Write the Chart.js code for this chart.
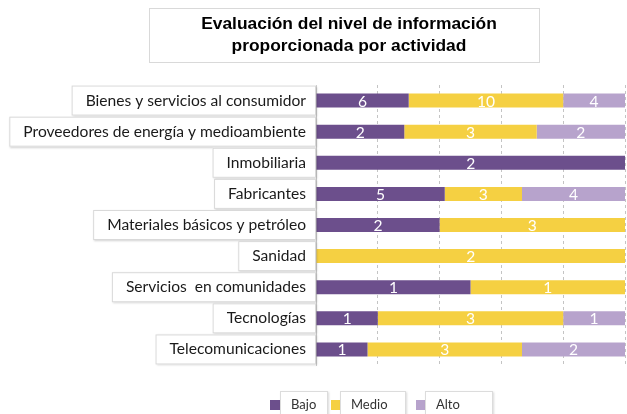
<!DOCTYPE html>
<html lang="es">
<head>
  <meta charset="UTF-8">
  <title>Evaluación del nivel de información</title>
  <script src="https://cdn.jsdelivr.net/npm/chart.js"></script>
  <style>
    body { margin: 0; background: #fff; }
    #wrap { width: 627px; height: 414px; }
  </style>
</head>
<body>
  <div id="wrap"><canvas id="chart"></canvas></div>
  <script>
    // data (counts per activity)
    const categories = [
      'Bienes y servicios al consumidor',
      'Proveedores de energía y medioambiente',
      'Inmobiliaria',
      'Fabricantes',
      'Materiales básicos y petróleo',
      'Sanidad',
      'Servicios  en comunidades',
      'Tecnologías',
      'Telecomunicaciones'
    ];
    const bajo = [6, 2, 2, 5, 2, 0, 1, 1, 1];
    const medio = [10, 3, 0, 3, 3, 2, 1, 3, 3];
    const alto = [4, 2, 0, 4, 0, 0, 0, 1, 2];
    const seriesNames = ['Bajo', 'Medio', 'Alto'];
    const colors = ['#6c4f8c', '#f5d042', '#b7a3cc'];

    const counts = [bajo, medio, alto];
    const totals = categories.map((c, i) => bajo[i] + medio[i] + alto[i]);
    // 100% stacked: share of each level in the row
    const shares = counts.map(arr => arr.map((v, i) => v ? v / totals[i] : null));

    const labelFont = '15.6px Lato, "Open Sans", sans-serif';

    const boxedLabels = {
      id: 'boxedLabels',
      afterDraw(chart) {
        const ctx = chart.ctx;
        const y = chart.scales.y;
        const right = chart.chartArea.left;
        ctx.save();
        ctx.font = labelFont;
        ctx.textBaseline = 'middle';
        ctx.textAlign = 'right';
        categories.forEach((name, i) => {
          const cy = y.getPixelForValue(i);
          const w = ctx.measureText(name).width;
          const x0 = right - 10 - w - 14;
          ctx.shadowColor = 'rgba(0,0,0,0.18)';
          ctx.shadowBlur = 2;
          ctx.shadowOffsetX = 1;
          ctx.shadowOffsetY = 1;
          ctx.fillStyle = '#fff';
          ctx.fillRect(x0, cy - 15, right - x0, 30);
          ctx.shadowColor = 'transparent';
          ctx.strokeStyle = '#d9d9d9';
          ctx.lineWidth = 1;
          ctx.strokeRect(x0 + 0.5, cy - 14.5, right - x0 - 1, 29);
          ctx.fillStyle = '#1a1a1a';
          ctx.fillText(name, right - 10, cy);
        });
        ctx.restore();
      }
    };

    const valueLabels = {
      id: 'valueLabels',
      afterDatasetsDraw(chart) {
        const ctx = chart.ctx;
        ctx.save();
        ctx.font = labelFont;
        ctx.fillStyle = '#fff';
        ctx.textAlign = 'center';
        ctx.textBaseline = 'middle';
        chart.data.datasets.forEach((ds, di) => {
          chart.getDatasetMeta(di).data.forEach((bar, i) => {
            if (!counts[di][i]) return;
            const cx = (bar.x + bar.base) / 2;
            ctx.fillText(String(counts[di][i]), cx, bar.y + 1);
          });
        });
        ctx.restore();
      }
    };

    const boxedTitle = {
      id: 'boxedTitle',
      afterDraw(chart) {
        const ctx = chart.ctx;
        ctx.save();
        ctx.strokeStyle = '#d9d9d9';
        ctx.strokeRect(149.5, 8.5, 390, 54);
        ctx.fillStyle = '#000';
        ctx.font = 'bold 17.4px "Liberation Sans", Arial, sans-serif';
        ctx.textAlign = 'center';
        ctx.textBaseline = 'middle';
        ctx.fillText('Evaluación del nivel de información', 349, 24);
        ctx.fillText('proporcionada por actividad', 349, 46);
        ctx.restore();
      }
    };

    const boxedLegend = {
      id: 'boxedLegend',
      afterDraw(chart) {
        const ctx = chart.ctx;
        const items = [
          { sq: 270, box: 280, w: 48 },
          { sq: 331, box: 340, w: 66 },
          { sq: 416, box: 425, w: 68 }
        ];
        ctx.save();
        ctx.font = '13px Lato, "Open Sans", sans-serif';
        ctx.textBaseline = 'middle';
        items.forEach((it, i) => {
          ctx.fillStyle = colors[i];
          ctx.fillRect(it.sq, 400, 10, 10);
          ctx.fillStyle = '#fff';
          ctx.shadowColor = 'rgba(0,0,0,0.15)';
          ctx.shadowBlur = 2;
          ctx.shadowOffsetX = 1;
          ctx.shadowOffsetY = 1;
          ctx.fillRect(it.box, 391, it.w, 30);
          ctx.shadowColor = 'transparent';
          ctx.strokeStyle = '#dcdcdc';
          ctx.strokeRect(it.box + 0.5, 391.5, it.w - 1, 30);
          ctx.fillStyle = '#333';
          ctx.fillText(seriesNames[i], it.box + 11, 405);
        });
        ctx.restore();
      }
    };

    new Chart(document.getElementById('chart'), {
      type: 'bar',
      data: {
        labels: categories,
        datasets: seriesNames.map((name, i) => ({
          label: name,
          data: shares[i],
          backgroundColor: colors[i],
          borderWidth: 0,
          barPercentage: 0.9,
          categoryPercentage: 0.5
        }))
      },
      options: {
        indexAxis: 'y',
        responsive: true,
        maintainAspectRatio: false,
        animation: false,
        layout: { padding: { top: 85, bottom: 49, left: 0, right: 2 } },
        plugins: {
          legend: { display: false },
          title: { display: false },
          tooltip: { enabled: false }
        },
        scales: {
          x: {
            stacked: true,
            min: 0,
            max: 1,
            ticks: { display: false, stepSize: 0.2 },
            border: { display: false, dash: [3, 3] },
            grid: { color: '#c4c4c4', drawTicks: false },
            afterFit(scale) { scale.height = 0; }
          },
          y: {
            stacked: true,
            ticks: { display: false },
            grid: { display: false },
            border: { color: '#d0d0d0' },
            afterFit(scale) { scale.width = 316; }
          }
        }
      },
      plugins: [boxedLabels, valueLabels, boxedTitle, boxedLegend]
    });
  </script>
</body>
</html>
